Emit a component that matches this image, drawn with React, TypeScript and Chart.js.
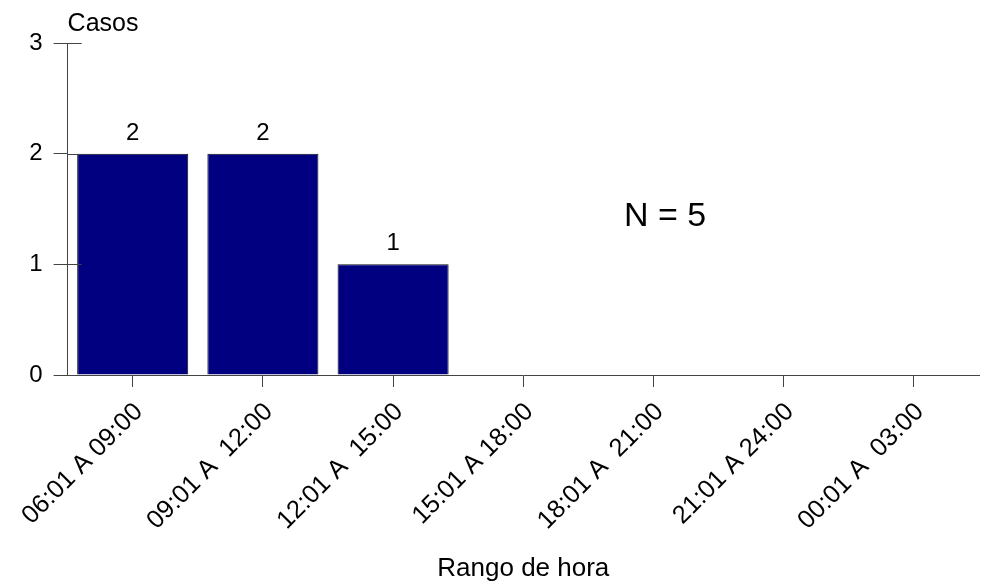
import React, { useEffect, useRef } from "react";
import { Chart, registerables } from "chart.js";

Chart.register(...registerables);

const categories = [
  "06:01 A 09:00",
  "09:01 A  12:00",
  "12:01 A  15:00",
  "15:01 A 18:00",
  "18:01 A  21:00",
  "21:01 A 24:00",
  "00:01 A  03:00",
];
const casos = [2, 2, 1, 0, 0, 0, 0];
const yTicks = [0, 1, 2, 3];
const yTitle = "Casos";
const xTitle = "Rango de hora";

const FONT = "'Liberation Sans', Arial, Helvetica, sans-serif";
const AXIS = "#444444";

export default function App() {
  const ref = useRef<HTMLCanvasElement | null>(null);

  useEffect(() => {
    if (!ref.current) return;
    const total = casos.reduce((a, b) => a + b, 0);

    const overlay = {
      id: "overlay",
      afterDraw(chart: any) {
        const { ctx, chartArea } = chart;
        const y = chart.scales.y;
        ctx.save();
        ctx.strokeStyle = AXIS;
        ctx.lineWidth = 1;
        yTicks.forEach((v) => {
          const py = Math.round(y.getPixelForValue(v)) + 0.5;
          ctx.beginPath();
          ctx.moveTo(chartArea.left, py);
          ctx.lineTo(chartArea.left + 14, py);
          ctx.stroke();
        });
        ctx.fillStyle = "#000";
        ctx.font = `24px ${FONT}`;
        ctx.textAlign = "center";
        ctx.textBaseline = "alphabetic";
        const meta = chart.getDatasetMeta(0);
        meta.data.forEach((bar: any, i: number) => {
          if (casos[i] > 0) ctx.fillText(String(casos[i]), bar.x, bar.y - 14);
        });
        ctx.font = `25px ${FONT}`;
        ctx.textAlign = "left";
        ctx.fillText(yTitle, chartArea.left, 31);
        ctx.font = `34px ${FONT}`;
        ctx.textAlign = "center";
        ctx.fillText(`N = ${total}`, 665, 226);
        ctx.restore();
      },
    };

    const chart = new Chart(ref.current, {
      type: "bar",
      data: {
        labels: categories,
        datasets: [
          {
            data: casos,
            backgroundColor: "#000080",
            borderColor: "#111111",
            borderWidth: 1,
            categoryPercentage: 1,
            barPercentage: 0.853,
          },
        ],
      },
      options: {
        animation: false,
        responsive: true,
        maintainAspectRatio: false,
        layout: { padding: { top: 43, right: 4, left: 0, bottom: 0 } },
        plugins: {
          legend: { display: false },
          tooltip: { enabled: false },
        },
        scales: {
          x: {
            grid: {
              display: true,
              drawOnChartArea: false,
              offset: false,
              tickLength: 12,
              color: AXIS,
            },
            border: { display: true, color: AXIS, width: 1 },
            ticks: {
              maxRotation: 45,
              minRotation: 45,
              autoSkip: false,
              color: "#000",
              padding: 10,
              labelOffset: 6,
              font: { family: FONT, size: 25.5 },
            },
            title: {
              display: true,
              text: xTitle,
              color: "#000",
              font: { family: FONT, size: 26 },
              padding: { top: 0, bottom: 1 },
            },
            afterFit(scale: any) {
              scale.height = 210;
            },
          },
          y: {
            min: 0,
            max: 3,
            afterBuildTicks(scale: any) {
              scale.ticks = yTicks.map((v) => ({ value: v }));
            },
            grid: {
              display: true,
              drawOnChartArea: false,
              tickLength: 14,
              color: AXIS,
            },
            border: { display: true, color: AXIS, width: 1 },
            ticks: {
              color: "#000",
              padding: 11,
              font: { family: FONT, size: 24 },
            },
            afterFit(scale: any) {
              scale.width = 67.6;
            },
          },
        },
      },
      plugins: [overlay],
    });
    return () => chart.destroy();
  }, []);

  return (
    <div style={{ position: "fixed", left: 0, top: 0, width: 983, height: 585, background: "#fff" }}>
      <canvas ref={ref} />
    </div>
  );
}
